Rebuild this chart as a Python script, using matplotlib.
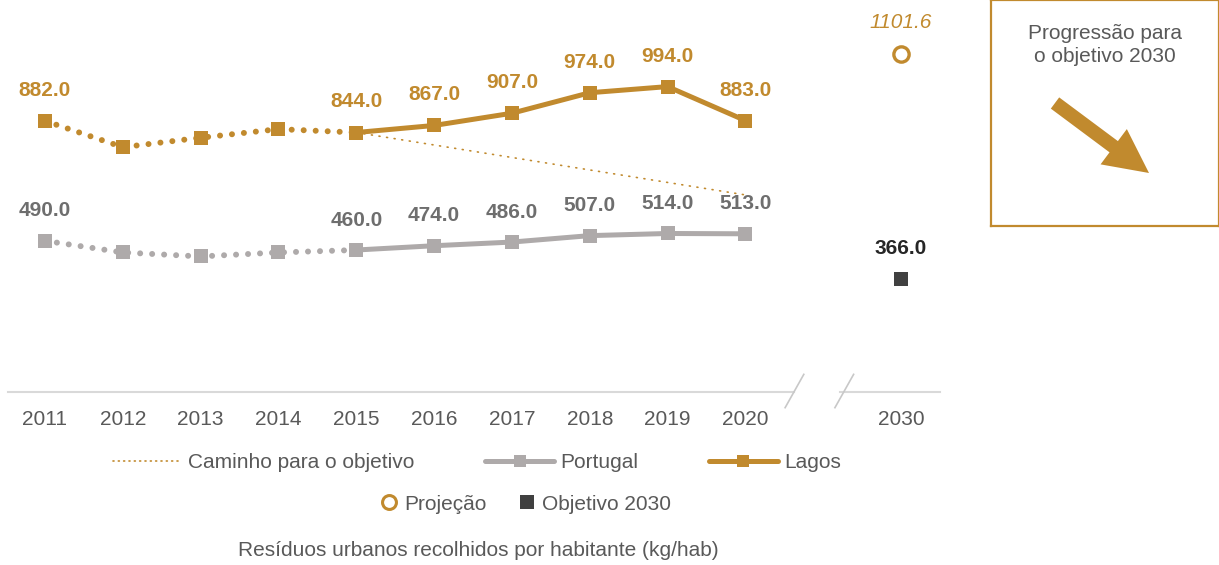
import matplotlib
matplotlib.use("Agg")
import matplotlib.pyplot as plt
from matplotlib.lines import Line2D
from matplotlib.patches import FancyArrow
import matplotlib.transforms as mtransforms

plt.rcParams['font.family'] = ['Liberation Sans', 'DejaVu Sans']

# ---- data ----
years = [2011, 2012, 2013, 2014, 2015, 2016, 2017, 2018, 2019, 2020]
target_year = 2030
lagos = [882.0, 796.0, 827.0, 855.0, 844.0, 867.0, 907.0, 974.0, 994.0, 883.0]
portugal = [490.0, 452.0, 439.0, 452.0, 460.0, 474.0, 486.0, 507.0, 514.0, 513.0]
lagos_labels = {2011: 882.0, 2015: 844.0, 2016: 867.0, 2017: 907.0, 2018: 974.0, 2019: 994.0, 2020: 883.0}
portugal_labels = {2011: 490.0, 2015: 460.0, 2016: 474.0, 2017: 486.0, 2018: 507.0, 2019: 514.0, 2020: 513.0}
caminho_years = [2015, 2020]
caminho = [844.0, 640.0]
projecao = 1101.6
objetivo = 366.0

GOLD = '#C18A2E'
GRAY = '#AEAAAA'
GRAYTXT = '#6E6E6E'
DARK = '#404040'
TXT = '#595959'

W, H = 1219, 565
fig = plt.figure(figsize=(W / 100, H / 100), dpi=100)
ax = fig.add_axes([8 / W, 1 - 392 / H, 932 / W, 392 / H])

pos = {y: i for i, y in enumerate(years)}
pos[target_year] = len(years) + 1
x_hist = [pos[y] for y in years]
split = years.index(2015)

ax.set_xlim(-0.475, 11.5)
ax.set_ylim(-4, 1277)
for s in ax.spines.values():
    s.set_visible(False)
ax.set_yticks([])
ax.set_xticks([pos[y] for y in years] + [pos[target_year]])
ax.set_xticklabels([str(y) for y in years] + [str(target_year)], fontsize=15, color=TXT)
ax.tick_params(axis='x', length=0, pad=13)

dot_style = dict(lw=4.3, linestyle=(0, (0.01, 2.0)), dash_capstyle='round')
msq = dict(marker='s', ms=10, mew=0)

# Caminho para o objetivo
ax.plot([pos[y] for y in caminho_years], caminho, color=GOLD, lw=1.2,
        linestyle=(0, (0.6, 4.0)), dash_capstyle='round', zorder=2)

for vals, col in ((portugal, GRAY), (lagos, GOLD)):
    ax.plot(x_hist[:split + 1], vals[:split + 1], color=col, **dot_style, zorder=3)
    ax.plot(x_hist[split:], vals[split:], color=col, lw=3.6, solid_capstyle='round', zorder=3)
    ax.plot(x_hist, vals, ls='none', color=col, **msq, zorder=4)

for y, v in lagos_labels.items():
    ax.annotate(f'{v:.1f}', (pos[y], v), xytext=(0, 22), textcoords='offset points',
                ha='center', va='center', fontsize=15, fontweight='bold', color=GOLD)
for y, v in portugal_labels.items():
    ax.annotate(f'{v:.1f}', (pos[y], v), xytext=(0, 21.5), textcoords='offset points',
                ha='center', va='center', fontsize=15, fontweight='bold', color=GRAYTXT)

# 2030
ax.plot([pos[target_year]], [projecao], marker='o', ms=11, mfc='white', mec=GOLD, mew=2.4, ls='none', zorder=4)
ax.annotate(f'{projecao:.1f}', (pos[target_year], projecao), xytext=(0, 22.5), textcoords='offset points',
            ha='center', va='center', fontsize=15, fontstyle='italic', color=GOLD)
ax.plot([pos[target_year]], [objetivo], marker='s', ms=10, mew=0, color=DARK, ls='none', zorder=4)
ax.annotate(f'{objetivo:.1f}', (pos[target_year], objetivo), xytext=(0, 21.5), textcoords='offset points',
            ha='center', va='center', fontsize=15, fontweight='bold', color='#262626')

# axis line with break
blend = mtransforms.blended_transform_factory(ax.transData, ax.transAxes)
b1, b2 = 9.63, 10.27
ax.plot([-0.475, b1], [0, 0], transform=blend, color='#D9D9D9', lw=1.5, clip_on=False)
ax.plot([b2 - 0.05, 11.5], [0, 0], transform=blend, color='#D9D9D9', lw=1.5, clip_on=False)
for xb in (b1, b2):
    ax.plot([xb - 0.12, xb + 0.12], [-0.04, 0.045], transform=blend, color='#C8C8C8', lw=1.2, clip_on=False)

# legends
h1 = [Line2D([], [], color=GOLD, lw=1.2, linestyle=(0, (0.6, 2.6)), dash_capstyle='round'),
      Line2D([], [], color=GRAY, lw=3.6, marker='s', ms=8, mew=0, solid_capstyle='round'),
      Line2D([], [], color=GOLD, lw=3.6, marker='s', ms=8, mew=0, solid_capstyle='round')]
l1 = fig.legend(h1, ['Caminho para o objetivo', 'Portugal', 'Lagos'], loc='center',
                bbox_to_anchor=(477 / W, 1 - 463 / H), ncol=3, frameon=False, fontsize=15,
                handlelength=3.3, columnspacing=3.4, handletextpad=0.3, labelcolor=TXT)
h2 = [Line2D([], [], marker='o', ms=10, mfc='white', mec=GOLD, mew=2.2, ls='none'),
      Line2D([], [], marker='s', ms=10, mew=0, color=DARK, ls='none')]
l2 = fig.legend(h2, ['Projeção', 'Objetivo 2030'], loc='center',
                bbox_to_anchor=(526 / W, 1 - 504 / H), ncol=2, frameon=False, fontsize=15,
                handlelength=0.8, columnspacing=1.5, handletextpad=0.35, labelcolor=TXT)

fig.text(478 / W, 1 - 550 / H, 'Resíduos urbanos recolhidos por habitante (kg/hab)',
         ha='center', va='center', fontsize=15, color=TXT)

# right box
bx = fig.add_axes([991 / W, 1 - 226 / H, 228 / W, 226 / H])
bx.set_xlim(0, 228)
bx.set_ylim(226, 0)
bx.set_xticks([])
bx.set_yticks([])
for s in bx.spines.values():
    s.set_color(GOLD)
    s.set_linewidth(1.6)
bx.text(114, 45, 'Progressão para\no objetivo 2030', ha='center', va='center',
        fontsize=15, color=TXT, linespacing=1.25)
bx.add_patch(FancyArrow(64, 103, 94, 70, width=14, head_width=44, head_length=44,
                        length_includes_head=True, color=GOLD, lw=0))

fig.savefig('out.png', dpi=100)
